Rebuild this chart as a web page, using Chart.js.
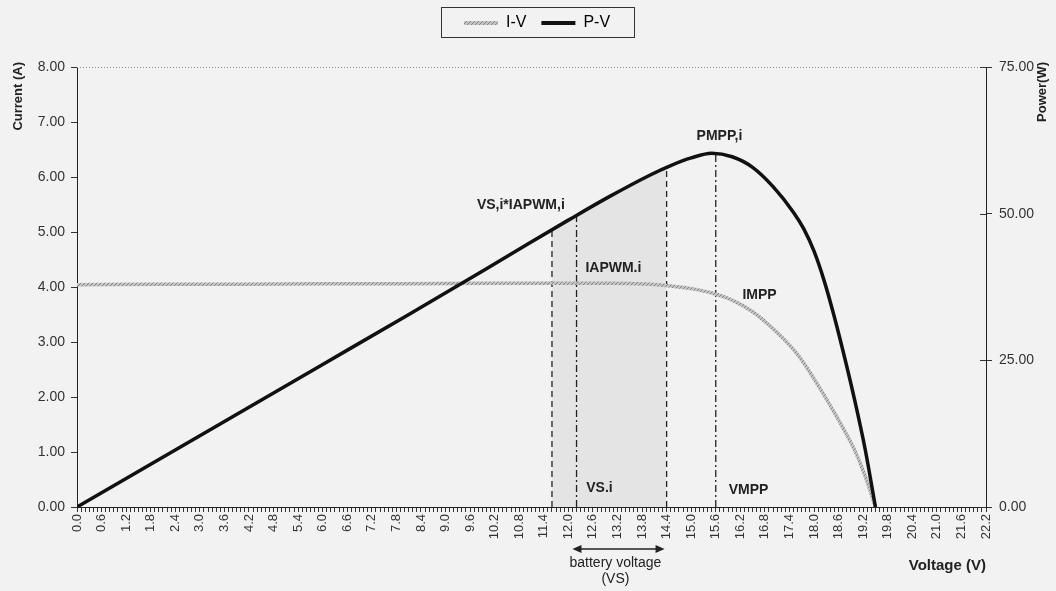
<!DOCTYPE html>
<html>
<head>
<meta charset="utf-8">
<script src="https://cdn.jsdelivr.net/npm/chart.js@4.4.1/dist/chart.umd.min.js"></script>
<style>
html, body { margin: 0; padding: 0; background: #f2f2f2; }
#wrap { width: 1056px; height: 591px; }
</style>
</head>
<body>
<div id="wrap"><canvas id="pv"></canvas></div>
<script>
// PV module curves
const voltage   = [0, 2, 4, 6, 8, 10, 11, 12, 13, 14, 14.5, 15, 15.5, 16, 16.5, 17, 17.5, 17.75, 18, 18.25, 18.5, 18.75, 19, 19.25, 19.5];
const currentIV = [4.04, 4.05, 4.05, 4.06, 4.06, 4.07, 4.07, 4.07, 4.07, 4.05, 4.02, 3.97, 3.89, 3.76, 3.55, 3.24, 2.86, 2.62, 2.33, 2.03, 1.71, 1.38, 1.02, 0.56, 0];
const powerPV   = [0, 8.1, 16.2, 24.3, 32.4, 40.6, 44.8, 48.9, 52.9, 56.6, 58.2, 59.5, 60.3, 59.7, 57.9, 54.6, 50.2, 47.4, 43.6, 38.5, 32.3, 25.4, 18.0, 9.8, 0];

// vertical markers (VS,i*IAPWM,i / VS.i / battery max / VMPP)
const markerVoltage = [11.6, 12.2, 14.4, 15.6];
const markerPower   = [47.2, 49.7, 57.6, 60.3];
const markerDash    = [[6, 4], [7, 3, 2, 3], [6, 4], [7, 3, 2, 3]];

// shaded battery window under the P-V curve
const shadeVoltage = [11.6, 12, 12.5, 13, 13.5, 14, 14.4];
const shadePower   = [47.2, 48.9, 50.9, 52.9, 54.8, 56.6, 57.6];

const xTickLabels = ['0.0','0.6','1.2','1.8','2.4','3.0','3.6','4.2','4.8','5.4','6.0','6.6','7.2','7.8',
  '8.4','9.0','9.6','10.2','10.8','11.4','12.0','12.6','13.2','13.8','14.4','15.0','15.6','16.2',
  '16.8','17.4','18.0','18.6','19.2','19.8','20.4','21.0','21.6','22.2'];

const notes = [
  { text: 'PMPP,i', v: 15.69, i: 6.75 },
  { text: 'VS,i*IAPWM,i', v: 10.84, i: 5.49 },
  { text: 'IAPWM.i', v: 13.1, i: 4.35 },
  { text: 'IMPP', v: 16.67, i: 3.85 },
  { text: 'VS.i', v: 12.76, i: 0.35 },
  { text: 'VMPP', v: 16.4, i: 0.31 }
];

const FONT = '"Liberation Sans", Arial, sans-serif';
Chart.defaults.font.family = FONT;
Chart.defaults.color = '#222';

// hatched grey for the I-V curve
function hatch() {
  const c = document.createElement('canvas');
  c.width = 4; c.height = 4;
  const g = c.getContext('2d');
  g.fillStyle = '#c4c4c4';
  g.fillRect(0, 0, 4, 4);
  g.fillStyle = '#858585';
  for (let k = 0; k < 4; k++) g.fillRect(k, 3 - k, 1, 1);
  return g.createPattern(c, 'repeat');
}
const ivColor = hatch();

const pts = (xs, ys) => xs.map((x, k) => ({ x: x, y: ys[k] }));

const datasets = [
  { label: 'I-V', data: pts(voltage, currentIV), yAxisID: 'y', borderColor: ivColor,
    borderWidth: 3.5, pointRadius: 0, cubicInterpolationMode: 'monotone', order: 2 },
  { label: 'P-V', data: pts(voltage, powerPV), yAxisID: 'y2', borderColor: '#111',
    borderWidth: 3.5, pointRadius: 0, cubicInterpolationMode: 'monotone', order: 1 },
  { label: 'shade', data: pts(shadeVoltage, shadePower), yAxisID: 'y2', borderWidth: 0,
    backgroundColor: '#e4e4e4', fill: 'origin', pointRadius: 0, cubicInterpolationMode: 'monotone', order: 10 }
];
markerVoltage.forEach((v, k) => {
  datasets.push({
    label: 'm' + k, data: [{ x: v, y: 0 }, { x: v, y: markerPower[k] }], yAxisID: 'y2',
    borderColor: '#222', borderWidth: 1.3, borderDash: markerDash[k], pointRadius: 0, order: 5
  });
});

const decor = {
  id: 'decor',
  beforeLayout(chart) {
    const lg = chart.legend;
    if (lg && !lg._tall) {
      const fit = lg.fit;
      lg.fit = function () { fit.call(this); this.height = 67; };
      lg._tall = true;
    }
  },
  afterLayout(chart) {
    // legend sits a little right of centre in the original
    chart.legend.left += 9;
    chart.legend.right += 9;
  },
  beforeDraw(chart) {
    const ctx = chart.ctx;
    ctx.save();
    ctx.fillStyle = '#f2f2f2';
    ctx.fillRect(0, 0, chart.width, chart.height);
    ctx.restore();
  },
  afterDraw(chart) {
    const ctx = chart.ctx, a = chart.chartArea;
    const xs = chart.scales.x, yI = chart.scales.y, yP = chart.scales.y2;
    ctx.save();

    // dotted top line
    ctx.strokeStyle = '#888';
    ctx.lineWidth = 1;
    ctx.setLineDash([1, 2]);
    ctx.beginPath();
    ctx.moveTo(a.left, a.top + 0.5);
    ctx.lineTo(a.right, a.top + 0.5);
    ctx.stroke();
    ctx.setLineDash([]);

    // right axis ticks cross the axis
    ctx.strokeStyle = '#333';
    yP.ticks.forEach(t => {
      const y = Math.round(yP.getPixelForValue(t.value)) + 0.5;
      ctx.beginPath();
      ctx.moveTo(a.right - 6, y);
      ctx.lineTo(a.right, y);
      ctx.stroke();
    });

    // legend frame
    const hb = chart.legend.legendHitBoxes;
    if (hb && hb.length) {
      const l = Math.min(...hb.map(b => b.left));
      const r = Math.max(...hb.map(b => b.left + b.width));
      const cx = (l + r) / 2;
      ctx.strokeStyle = '#333';
      ctx.lineWidth = 1;
      ctx.strokeRect(Math.round(cx - 96) + 0.5, 7.5, 193, 30);
    }

    // axis titles
    ctx.fillStyle = '#222';
    ctx.font = 'bold 13px ' + FONT;
    ctx.textAlign = 'right';
    ctx.textBaseline = 'middle';
    [['Current (A)', 18], ['Power(W)', 1042]].forEach(([t, x]) => {
      ctx.save();
      ctx.translate(x, 62);
      ctx.rotate(-Math.PI / 2);
      ctx.fillText(t, 0, 0);
      ctx.restore();
    });

    // point labels
    ctx.font = 'bold 14px ' + FONT;
    ctx.textAlign = 'center';
    notes.forEach(n => ctx.fillText(n.text, xs.getPixelForValue(n.v), yI.getPixelForValue(n.i)));

    // battery voltage arrow
    const x1 = xs.getPixelForValue(12.1), x2 = xs.getPixelForValue(14.35), ay = 549;
    ctx.strokeStyle = '#222';
    ctx.lineWidth = 1.5;
    ctx.beginPath();
    ctx.moveTo(x1 + 6, ay);
    ctx.lineTo(x2 - 6, ay);
    ctx.stroke();
    ctx.beginPath();
    ctx.moveTo(x1, ay); ctx.lineTo(x1 + 9, ay - 4); ctx.lineTo(x1 + 9, ay + 4); ctx.closePath();
    ctx.moveTo(x2, ay); ctx.lineTo(x2 - 9, ay - 4); ctx.lineTo(x2 - 9, ay + 4); ctx.closePath();
    ctx.fill();

    ctx.font = '14px ' + FONT;
    const bx = xs.getPixelForValue(13.15);
    ctx.fillText('battery voltage', bx, 563);
    ctx.fillText('(VS)', bx, 579);
    ctx.restore();
  }
};

new Chart(document.getElementById('pv'), {
  type: 'line',
  data: { datasets: datasets },
  options: {
    responsive: true,
    maintainAspectRatio: false,
    animation: false,
    layout: { padding: 0 },
    plugins: {
      tooltip: { enabled: false },
      legend: {
        position: 'top',
        labels: {
          boxWidth: 34,
          boxHeight: 4,
          padding: 15,
          font: { size: 16 },
          color: '#222',
          generateLabels: (chart) => chart.data.datasets.slice(0, 2).map((d, k) => ({
            text: d.label, fillStyle: d.borderColor, strokeStyle: d.borderColor,
            lineWidth: 0, hidden: false, datasetIndex: k
          }))
        }
      }
    },
    scales: {
      x: {
        type: 'linear',
        min: 0,
        max: 22.2,
        afterFit: (s) => { s.height = 84; },
        border: { display: true, color: '#222', width: 1 },
        grid: { display: true, drawOnChartArea: false, drawTicks: true, tickLength: 5, tickColor: '#333' },
        ticks: {
          stepSize: 0.1,
          autoSkip: false,
          maxRotation: 90,
          minRotation: 90,
          padding: 2,
          font: { size: 13 },
          color: '#333',
          callback: (value) => {
            const s = (Math.round(value * 10) / 10).toFixed(1);
            return xTickLabels.includes(s) ? s : '';
          }
        },
        title: {
          display: true,
          text: 'Voltage (V)',
          align: 'end',
          font: { size: 15, weight: 'bold' },
          color: '#222',
          padding: { top: 4, bottom: 16 }
        }
      },
      y: {
        position: 'left',
        min: 0,
        max: 8,
        afterFit: (s) => { s.width = 77; },
        border: { display: true, color: '#222', width: 1 },
        grid: { drawOnChartArea: false, tickLength: 6, tickColor: '#333' },
        ticks: { stepSize: 1, padding: 6, font: { size: 14 }, color: '#333',
          callback: (v) => Number(v).toFixed(2) }
      },
      y2: {
        position: 'right',
        min: 0,
        max: 75,
        afterFit: (s) => { s.width = 70; },
        border: { display: true, color: '#222', width: 1 },
        grid: { drawOnChartArea: false, tickLength: 6, tickColor: '#333' },
        ticks: { stepSize: 25, padding: 7, font: { size: 14 }, color: '#333',
          callback: (v) => Number(v).toFixed(2) }
      }
    }
  },
  plugins: [decor]
});
</script>
</body>
</html>
